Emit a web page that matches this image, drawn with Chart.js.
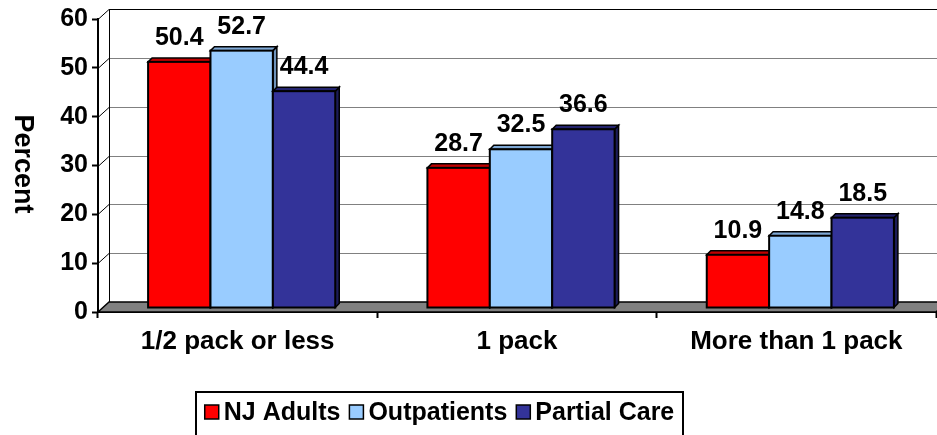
<!DOCTYPE html>
<html><head><meta charset="utf-8">
<script src="https://cdn.jsdelivr.net/npm/chart.js@4.4.0/dist/chart.umd.min.js"></script>
<style>html,body{margin:0;padding:0;background:#fff}#wrap{width:937px;height:435px;position:relative}</style>
</head><body><div id="wrap"><canvas id="c"></canvas></div>
<script>
const categories = ['1/2 pack or less', '1 pack', 'More than 1 pack'];
const seriesNames = ['NJ Adults', 'Outpatients', 'Partial Care'];
const njAdults = [50.4, 28.7, 10.9];
const outpatients = [52.7, 32.5, 14.8];
const partialCare = [44.4, 36.6, 18.5];
const yTicks = [0, 10, 20, 30, 40, 50, 60];
const yTitle = 'Percent';

const FONT = "'Liberation Sans', Arial, sans-serif";
const frontColors = ['#FF0000', '#99CCFF', '#333399'];
const topColors = ['#C00000', '#7FA9D6', '#24246E'];
const sideColors = ['#A00000', '#6E93BB', '#1C1C58'];
const WALL_DX = 11, WALL_DY = 10, BAR_D = 4;

const threeD = {
  id: 'threeD',
  beforeDatasetsDraw(chart) {
    const { ctx, chartArea: a, scales: { y } } = chart;
    ctx.save();
    ctx.beginPath();
    ctx.moveTo(a.left, a.bottom);
    ctx.lineTo(a.left + WALL_DX, a.bottom - WALL_DY);
    ctx.lineTo(a.right + WALL_DX, a.bottom - WALL_DY);
    ctx.lineTo(a.right, a.bottom);
    ctx.closePath();
    ctx.fillStyle = '#808080'; ctx.fill();
    ctx.lineWidth = 1.5; ctx.strokeStyle = '#000'; ctx.stroke();
    yTicks.forEach(v => {
      if (v === 0) return;
      const py = Math.round(y.getPixelForValue(v)) + 0.5;
      ctx.beginPath();
      ctx.moveTo(a.left, py); ctx.lineTo(a.left + WALL_DX, py - WALL_DY);
      ctx.lineWidth = 1; ctx.strokeStyle = '#000'; ctx.stroke();
      ctx.beginPath();
      ctx.moveTo(a.left + WALL_DX, py - WALL_DY); ctx.lineTo(chart.width, py - WALL_DY);
      ctx.strokeStyle = v === 60 ? '#000' : '#808080'; ctx.stroke();
    });
    const top = Math.round(y.getPixelForValue(60)) - WALL_DY;
    ctx.beginPath();
    ctx.moveTo(a.left + WALL_DX + 0.5, top); ctx.lineTo(a.left + WALL_DX + 0.5, a.bottom - WALL_DY);
    ctx.strokeStyle = '#000'; ctx.lineWidth = 1; ctx.stroke();
    ctx.restore();
    ctx.save();
    ctx.translate(BAR_D, -BAR_D);
  },
  afterDatasetsDraw(chart) {
    const { ctx } = chart;
    ctx.restore();
    ctx.save();
    ctx.lineJoin = 'miter';
    for (let di = 0; di < chart.data.datasets.length; di++) {
      const meta = chart.getDatasetMeta(di);
      meta.data.forEach((el) => {
        const p = el.getProps(['x', 'y', 'base', 'width'], true);
        const L = p.x - p.width / 2 + BAR_D, R = p.x + p.width / 2 + BAR_D;
        const T = p.y - BAR_D, B = p.base - BAR_D;
        const d = BAR_D;
        ctx.beginPath();
        ctx.moveTo(R, T); ctx.lineTo(R + d, T - d); ctx.lineTo(R + d, B - d); ctx.lineTo(R, B); ctx.closePath();
        ctx.fillStyle = sideColors[di]; ctx.fill();
        ctx.lineWidth = 1.5; ctx.strokeStyle = '#000'; ctx.stroke();
        ctx.beginPath();
        ctx.moveTo(L, T); ctx.lineTo(L + d, T - d); ctx.lineTo(R + d, T - d); ctx.lineTo(R, T); ctx.closePath();
        ctx.fillStyle = topColors[di]; ctx.fill(); ctx.stroke();
        ctx.fillStyle = frontColors[di];
        ctx.fillRect(L, T, R - L, B - T);
        ctx.lineWidth = 2; ctx.strokeRect(L, T, R - L, B - T);
      });
    }
    ctx.fillStyle = '#000';
    ctx.font = 'bold 25px ' + FONT;
    ctx.textAlign = 'center'; ctx.textBaseline = 'alphabetic';
    for (let di = 0; di < chart.data.datasets.length; di++) {
      const meta = chart.getDatasetMeta(di);
      const vals = chart.data.datasets[di].data;
      meta.data.forEach((el, i) => {
        const p = el.getProps(['x', 'y'], true);
        ctx.fillText(vals[i].toFixed(1), p.x + BAR_D, p.y - BAR_D - 17);
      });
    }
    ctx.restore();
  },
  afterDraw(chart) {
    const { ctx, chartArea: a } = chart;
    ctx.save();
    ctx.translate(22, 164);
    ctx.rotate(Math.PI / 2);
    ctx.font = 'bold 27px ' + FONT;
    ctx.fillStyle = '#000'; ctx.textAlign = 'center'; ctx.textBaseline = 'middle';
    ctx.fillText(yTitle, 0, 0);
    ctx.restore();
    ctx.save();
    const boxL = 196, boxR = 683, boxT = 392;
    ctx.lineWidth = 2; ctx.strokeStyle = '#000';
    ctx.strokeRect(boxL, boxT, boxR - boxL, 60);
    ctx.font = 'bold 25px ' + FONT;
    const sq = 14, gapSq = 5, gapItem = 9;
    const widths = chart.data.datasets.map(ds => ctx.measureText(ds.label).width);
    const total = widths.reduce((s, w) => s + w, 0) + widths.length * (sq + gapSq) + (widths.length - 1) * gapItem;
    let x = (boxL + boxR) / 2 - total / 2;
    const cy = 412;
    chart.data.datasets.forEach((ds, i) => {
      ctx.fillStyle = frontColors[i];
      ctx.fillRect(x, cy - sq / 2, sq, sq);
      ctx.lineWidth = 1.5; ctx.strokeRect(x, cy - sq / 2, sq, sq);
      ctx.fillStyle = '#000'; ctx.textAlign = 'left'; ctx.textBaseline = 'middle';
      ctx.fillText(ds.label, x + sq + gapSq, cy + 1);
      x += sq + gapSq + widths[i] + gapItem;
    });
    ctx.restore();
  }
};

new Chart(document.getElementById('c'), {
  type: 'bar',
  data: {
    labels: categories,
    datasets: [
      { label: seriesNames[0], data: njAdults, backgroundColor: frontColors[0] },
      { label: seriesNames[1], data: outpatients, backgroundColor: frontColors[1] },
      { label: seriesNames[2], data: partialCare, backgroundColor: frontColors[2] }
    ]
  },
  options: {
    responsive: true, maintainAspectRatio: false, animation: false,
    events: [],
    layout: { padding: { top: 18, right: 1, left: 0, bottom: 0 } },
    datasets: { bar: { categoryPercentage: 0.67, barPercentage: 1.0, borderWidth: 2, borderColor: '#000', borderSkipped: false } },
    plugins: { legend: { display: false }, tooltip: { enabled: false } },
    scales: {
      x: {
        grid: { display: true, drawOnChartArea: false, drawTicks: true, tickLength: 6, tickColor: '#000', tickWidth: 2, offset: true },
        border: { display: true, color: '#000', width: 2 },
        ticks: { color: '#000', font: { family: FONT, size: 26, weight: 'bold' }, padding: 8, maxRotation: 0, autoSkip: false },
        afterFit(s) { s.height = 123; }
      },
      y: {
        min: 0, max: 60,
        afterBuildTicks(s) { s.ticks = yTicks.map(v => ({ value: v })); },
        grid: { drawOnChartArea: false, drawTicks: true, tickLength: 6, tickColor: '#000', tickWidth: 2 },
        border: { display: true, color: '#000', width: 2 },
        ticks: { color: '#000', font: { family: FONT, size: 25, weight: 'bold' }, padding: 4 },
        afterFit(s) { s.width = 98; }
      }
    }
  },
  plugins: [threeD]
});
</script>
</body></html>
